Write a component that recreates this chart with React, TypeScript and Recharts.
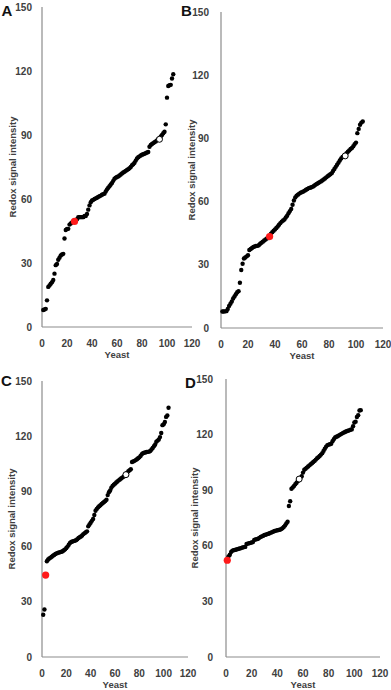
import React from "react";
import { ScatterChart, Scatter, XAxis, YAxis } from "recharts";

const xTicks = [0, 20, 40, 60, 80, 100, 120];
const yTicks = [0, 30, 60, 90, 120, 150];

// sorted signal per yeast, rank = position in array (1-based)
const aValues = [
  8, 8.2, 8.5, 12.5, 18.8, 19.5, 20.3, 21, 22, 25,
  29, 29.5, 31.5, 32.5, 33.5, 34, 34.3, 41.5, 45.5, 46,
  46, 48, 48.5, 49, 49.5, 49.5, 50, 50.5, 51.5, 51.5,
  51.5, 51.5, 51.5, 52, 52, 53, 55, 57, 58.5, 59.3,
  59.6, 60, 60.3, 60.6, 61, 61.3, 61.6, 62, 62.3, 62.5,
  63.5, 64.5, 65.3, 66, 66.8, 67.5, 68.5, 69.5, 70, 70.3,
  70.6, 71, 71.5, 72, 72.4, 72.8, 73.2, 73.6, 74, 74.4,
  75, 75.8, 76.3, 77, 78, 79, 79.6, 80, 80.4, 80.8,
  81, 81.2, 81.5, 81.8, 82, 84.5, 85.3, 85.8, 86.2, 86.6,
  87, 87.5, 88, 88.5, 89.3, 90, 90.8, 91.5, 95, 107.5,
  113, 113.3, 113.5, 116.5, 118.5,
];
const aRed = [{ x: 26, y: 49.5 }];
const aOpen = [{ x: 94, y: 88 }];

const bValues = [
  7.8, 7.8, 7.9, 8, 9, 10.5, 11.5, 12.6, 14, 15,
  16, 17, 17.5, 21.5, 27.5, 30.5, 33, 33.5, 34, 34.5,
  37, 37.5, 38, 38.5, 38.7, 39, 39, 39.3, 40, 40.5,
  41, 41.5, 42, 42.5, 43, 43.4, 44.8, 45.5, 46.2, 46.8,
  47.5, 48.2, 49, 49.8, 50.5, 51, 51.5, 52.5, 53.3, 54.5,
  55.5, 56.5, 58.5, 60.5, 62, 62.8, 63.3, 63.8, 64.2, 64.5,
  64.8, 65.2, 65.6, 66, 66.4, 66.6, 66.8, 67.1, 67.5, 68,
  68.4, 68.8, 69.2, 69.6, 70, 70.5, 71, 71.5, 72, 72.5,
  73, 73.5, 74.5, 75.5, 76.5, 77.5, 78.5, 79.5, 80.5, 81.2,
  81.7, 82.2, 83, 83.7, 84.3, 85, 85.5, 86.3, 87.3, 88,
  92.5, 94.5, 96.5, 97.5, 98,
];
const bRed = [{ x: 36, y: 43.4 }];
const bOpen = [{ x: 92, y: 81.7 }];

const cValues = [
  23, 25.8, 44.5, 52, 53, 53.5, 54, 54.5, 55, 55.5,
  56, 56.3, 56.6, 56.8, 57, 57.2, 57.5, 58, 58.5, 59.2,
  60, 61, 62, 62.5, 62.8, 63, 63.2, 63.5, 64, 64.7,
  65.1, 65.5, 66, 66.8, 67.3, 67.8, 68.3, 71, 72, 73,
  74, 75, 77.2, 79.5, 80.5, 81.3, 81.9, 82.5, 83.2, 83.7,
  84.2, 84.8, 85.5, 88, 89.5, 90.5, 92, 93, 93.6, 94.2,
  94.8, 95.4, 96, 96.5, 97, 97.5, 98, 98.7, 99.1, 100.2,
  101, 101.5, 102, 106, 106.3, 106.6, 107, 107.5, 108, 108.5,
  109.3, 110.2, 110.8, 111, 111.2, 111.4, 111.5, 111.6, 112, 112.8,
  113.6, 114.5, 115.5, 117, 117.6, 118.2, 119.5, 121.7, 126, 126.5,
  127.7, 130.5, 131.3, 135.5,
];
const cRed = [{ x: 3, y: 44.5 }];
const cOpen = [{ x: 69, y: 99.1 }];

const dValues = [
  52.2, 54.3, 55.2, 56.7, 57.4, 57.6, 57.8, 58, 58.2, 58.4,
  58.6, 58.9, 59.1, 59.3, 59.4, 61, 61.2, 61.4, 61.6, 61.8,
  62, 63.2, 63.4, 63.6, 63.8, 64.3, 64.8, 65.1, 65.4, 65.8,
  66, 66.3, 66.5, 66.8, 67.1, 67.4, 67.7, 68, 68.2, 68.4,
  68.5, 68.7, 69, 69.5, 70.2, 71, 72, 73, 81.5, 84,
  90.8, 91.5, 92.3, 93.2, 94, 95, 96, 96.8, 97.5, 99.5,
  101, 101.6, 102.2, 102.8, 103.4, 104, 104.6, 105.2, 105.8, 106.5,
  107.2, 107.8, 108.5, 109.2, 110, 111.2, 112.4, 113.5, 114.3, 114.6,
  114.8, 115, 116.4, 117.5, 118.5, 118.8, 119.1, 119.6, 120, 120.4,
  120.8, 121.2, 121.5, 121.8, 122.1, 122.3, 122.6, 122.8, 124.5, 126.5,
  127, 129.5, 130.5, 133, 133.2,
];
const dRed = [{ x: 1, y: 52.2 }];
const dOpen = [{ x: 57, y: 96 }];

const FONT = "'Liberation Sans', Arial, sans-serif";
const TEXT = "#404040";

const toPoints = (vals: number[]) => vals.map((y, i) => ({ x: i + 1, y }));

const Dot = (p: any) => <circle cx={p.cx} cy={p.cy} r={2.2} fill="#000" />;
const RedDot = (p: any) => <circle cx={p.cx} cy={p.cy} r={3.6} fill="#ff1a1a" />;
const OpenDot = (p: any) => (
  <circle cx={p.cx} cy={p.cy} r={3} fill="#fff" stroke="#000" strokeWidth={1} />
);

type PanelProps = {
  values: number[];
  red: { x: number; y: number }[];
  open: { x: number; y: number }[];
  left: number;
  top: number;
  width: number;
  height: number;
  plotLeft: number;
  plotTop: number;
  plotRight: number;
  plotBottom: number;
  tickGap: number;
  labelX: number;
};

function Panel(p: PanelProps) {
  const yAxisWidth = p.plotLeft - p.left;
  const xAxisHeight = p.top + p.height - p.plotBottom;
  const axisY = p.plotBottom - p.top;
  const axisX = p.plotLeft - p.left;
  const midX = (p.plotLeft + p.plotRight) / 2 - p.left;
  const midY = (p.plotTop + p.plotBottom) / 2 - p.top;
  const lx = p.labelX - p.left;

  const xTick = (t: any) => (
    <text x={t.x} y={axisY + 19.5} textAnchor="middle" fontFamily={FONT} fontWeight={700} fontSize={10} fill={TEXT}>
      {t.payload.value}
    </text>
  );
  const yTick = (t: any) => (
    <text x={axisX - p.tickGap} y={t.y + 3.6} textAnchor="end" fontFamily={FONT} fontWeight={700} fontSize={10} fill={TEXT}>
      {t.payload.value}
    </text>
  );

  return (
    <div style={{ position: "absolute", left: p.left, top: p.top, width: p.width, height: p.height }}>
      <ScatterChart
        width={p.width}
        height={p.height}
        margin={{ top: p.plotTop - p.top, right: p.left + p.width - p.plotRight, left: 0, bottom: 0 }}
      >
        <XAxis
          type="number"
          dataKey="x"
          domain={[0, 120]}
          ticks={xTicks}
          interval={0}
          height={xAxisHeight}
          tickSize={0}
          tickMargin={0}
          tickLine={false}
          axisLine={{ stroke: "#8c8c8c", strokeWidth: 1.2 }}
          tick={xTick}
          label={{
            content: () => (
              <text x={midX} y={axisY + 31} textAnchor="middle" fontFamily={FONT} fontWeight={700} fontSize={9.5} fill={TEXT}>
                Yeast
              </text>
            ),
          }}
        />
        <YAxis
          type="number"
          dataKey="y"
          domain={[0, 150]}
          ticks={yTicks}
          interval={0}
          width={yAxisWidth}
          tickSize={0}
          tickMargin={0}
          tickLine={false}
          axisLine={{ stroke: "#8c8c8c", strokeWidth: 1.2 }}
          tick={yTick}
          label={{
            content: () => (
              <text
                x={lx}
                y={midY}
                transform={`rotate(-90, ${lx}, ${midY})`}
                textAnchor="middle"
                dominantBaseline="central"
                fontFamily={FONT}
                fontWeight={700}
                fontSize={9.5}
                fill={TEXT}
              >
                Redox signal intensity
              </text>
            ),
          }}
        />
        <Scatter data={toPoints(p.values)} shape={Dot} isAnimationActive={false} />
        <Scatter data={p.red} shape={RedDot} isAnimationActive={false} />
        <Scatter data={p.open} shape={OpenDot} isAnimationActive={false} />
      </ScatterChart>
    </div>
  );
}

const letterStyle = (left: number, top: number): React.CSSProperties => ({
  position: "absolute",
  left,
  top,
  fontFamily: "'Liberation Sans', Arial, sans-serif",
  fontWeight: 700,
  fontSize: 15,
  lineHeight: "15px",
  color: "#111",
});

export default function App() {
  return (
    <div style={{ position: "absolute", left: 0, top: 0, width: 391, height: 690, background: "#fff", overflow: "hidden" }}>
      <Panel values={aValues} red={aRed} open={aOpen} left={0} top={0} width={205} height={362}
        plotLeft={42} plotTop={7} plotRight={192} plotBottom={327} tickGap={10} labelX={12.5} />
      <Panel values={bValues} red={bRed} open={bOpen} left={180} top={0} width={211} height={362}
        plotLeft={221} plotTop={12} plotRight={383} plotBottom={328} tickGap={12} labelX={191} />
      <Panel values={cValues} red={cRed} open={cOpen} left={0} top={345} width={205} height={345}
        plotLeft={42} plotTop={381} plotRight={188} plotBottom={657} tickGap={10} labelX={11} />
      <Panel values={dValues} red={dRed} open={dOpen} left={180} top={345} width={211} height={345}
        plotLeft={226} plotTop={379} plotRight={380} plotBottom={657} tickGap={13} labelX={194} />
      <div style={letterStyle(1.5, 3)}>A</div>
      <div style={letterStyle(181, 3)}>B</div>
      <div style={letterStyle(1, 373)}>C</div>
      <div style={letterStyle(185, 375)}>D</div>
    </div>
  );
}
